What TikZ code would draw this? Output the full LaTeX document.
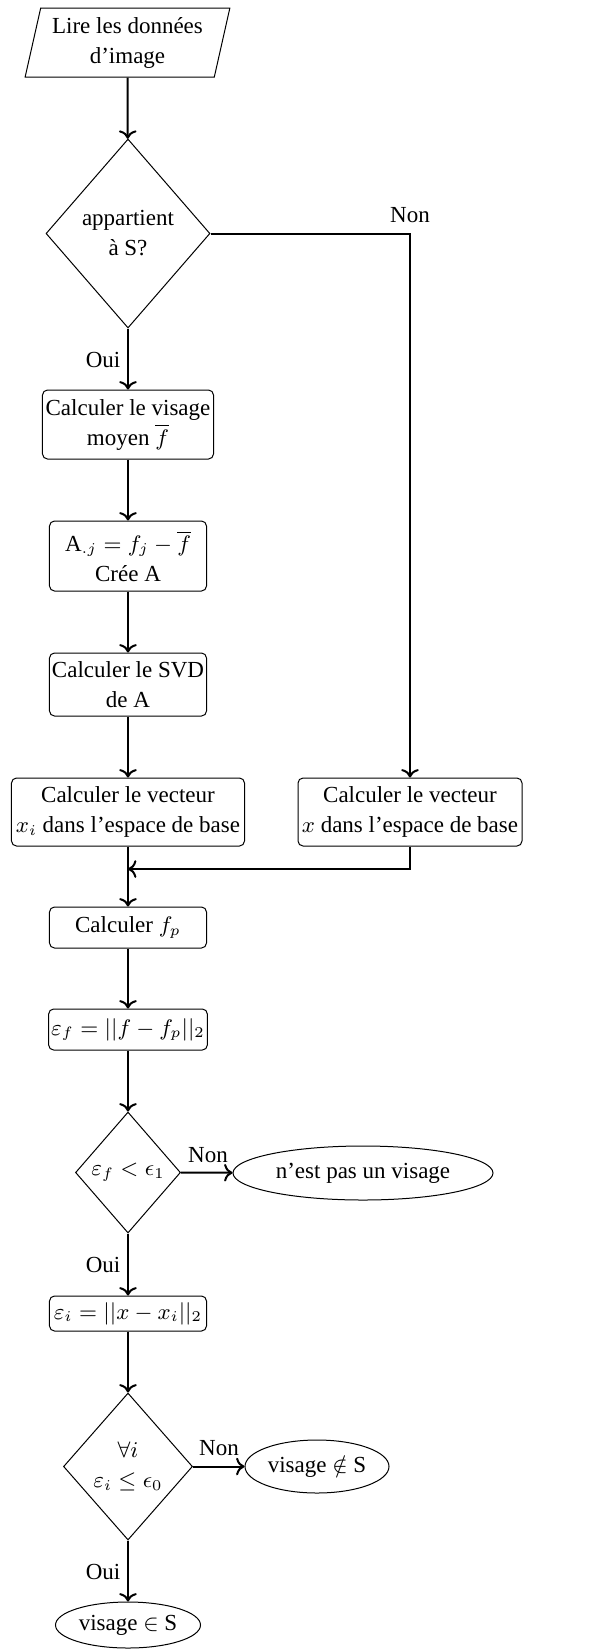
\documentclass[tikz,border=0pt]{standalone}
\usepackage{fontspec}
\setmainfont{Liberation Serif}
\usetikzlibrary{shapes.geometric,arrows.meta}
\begin{document}
\begin{tikzpicture}[x=0.4pt,y=-0.4pt,
  font=\fontsize{9.2}{12}\selectfont,
  box/.style={draw, rounded corners=2pt, align=center, inner sep=1pt, line width=0.4pt},
  dia/.style={draw, diamond, align=center, inner sep=0pt, line width=0.4pt},
  ell/.style={draw, ellipse, inner sep=0pt, line width=0.4pt},
  io/.style={draw, trapezium, trapezium left angle=76, trapezium right angle=104, trapezium stretches=true, align=center, inner sep=1pt, line width=0.4pt},
  arr/.style={->, line width=0.8pt},
  lab/.style={inner sep=0pt}]
\useasboundingbox (0,0) rectangle (603,1649);
\node[io, minimum width=82pt, minimum height=27.6pt] (in) at (127.5,42.5) {Lire les données\\d’image};
\node[dia, minimum width=65.6pt, minimum height=75.6pt] (d1) at (128,233.5) {appartient\\à S?};
\node[box, minimum width=68.4pt, minimum height=27.6pt] (b1) at (128,424.5) {Calculer le visage\\moyen $\overline{f}$};
\node[box, minimum width=62.8pt, minimum height=28pt] (b2) at (128,556) {A$_{.j}=f_j-\overline{f}$\\Crée A};
\node[box, minimum width=62.8pt, minimum height=25.2pt] (b3) at (128,684.5) {Calculer le SVD\\de A};
\node[box, minimum width=93.2pt, minimum height=27.2pt] (b4) at (128,812) {Calculer le vecteur\\$x_i$ dans l’espace de base};
\node[box, minimum width=89.6pt, minimum height=27.2pt] (br) at (410,812) {Calculer le vecteur\\$x$ dans l’espace de base};
\coordinate (m) at (128,869);
\node[box, minimum width=62.8pt, minimum height=16.4pt] (b5) at (128,927.5) {Calculer $f_p$};
\node[box, minimum width=62.8pt, minimum height=16.4pt] (b6) at (128,1029.5) {$\varepsilon_f=||f-f_p||_2$};
\node[dia, minimum width=42pt, minimum height=48.4pt] (d2) at (128,1172.5) {$\varepsilon_f<\epsilon_1$};
\node[ell, minimum width=104pt, minimum height=21.6pt] (e1) at (363,1173) {n’est pas un visage};
\node[box, minimum width=62.8pt, minimum height=14pt] (b7) at (128,1313.5) {$\varepsilon_i=||x-x_i||_2$};
\node[dia, minimum width=51.6pt, minimum height=58.8pt] (d3) at (128,1466.5) {$\forall i$\\$\varepsilon_i\le\epsilon_0$};
\node[ell, minimum width=57.6pt, minimum height=21.2pt] (e2) at (317,1466.5) {visage $\notin$ S};
\node[ell, minimum width=58pt, minimum height=18.4pt] (e3) at (128,1625) {visage $\in$ S};
\draw[arr] (in) -- (d1);
\draw[arr] (d1.east) -| (br.north);
\draw[arr] (d1) -- (b1);
\draw[arr] (b1) -- (b2);
\draw[arr] (b2) -- (b3);
\draw[arr] (b3) -- (b4);
\draw[arr] (br.south) |- (m);
\draw[arr] (b4) -- (b5);
\draw[arr] (b5) -- (b6);
\draw[arr] (b6) -- (d2);
\draw[arr] (d2) -- (e1);
\draw[arr] (d2) -- (b7);
\draw[arr] (b7) -- (d3);
\draw[arr] (d3) -- (e2);
\draw[arr] (d3) -- (e3);
\node[lab] (n1) at (410,215) {Non};
\node[lab] (o1) at (103,360) {Oui};
\node[lab] (n2) at (208,1155) {Non};
\node[lab] (o2) at (103,1265) {Oui};
\node[lab] (n3) at (219,1448) {Non};
\node[lab] (o3) at (103,1572) {Oui};
\end{tikzpicture}
\end{document}
